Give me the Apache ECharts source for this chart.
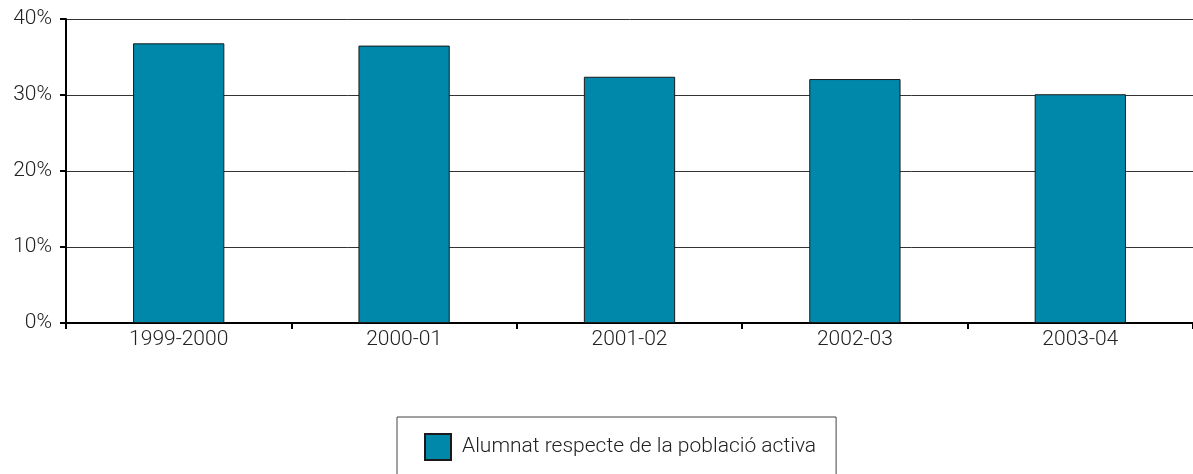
<!DOCTYPE html>
<html>
<head>
<meta charset="utf-8">
<script src="https://cdn.jsdelivr.net/npm/echarts@6/dist/echarts.min.js"></script>
<style>
  html, body { margin: 0; padding: 0; background: #fff; }
  #chart { width: 1193px; height: 474px; }
</style>
</head>
<body>
<div id="chart"></div>
<script>
// Students relative to the active population, per school year
const courses = ['1999-2000', '2000-01', '2001-02', '2002-03', '2003-04'];
const ratioValues = [36.8, 36.5, 32.4, 32.1, 30.1];
const seriesName = 'Alumnat respecte de la població activa';
const yTicks = { min: 0, max: 40, interval: 10 };

const fontFamily = 'Roboto, "Liberation Sans", sans-serif';
const textColor = '#222';
const fontSize = 21;

const chart = echarts.init(document.getElementById('chart'), null, { renderer: 'canvas' });
chart.setOption({
  animation: false,
  backgroundColor: '#ffffff',
  grid: { left: 66, right: 0, top: 19, bottom: 151, containLabel: false },
  legend: {
    data: [seriesName],
    left: 397,
    top: 417,
    padding: [16, 20, 40, 27],
    borderColor: '#444',
    borderWidth: 1,
    icon: 'rect',
    itemWidth: 26,
    itemHeight: 26,
    selectedMode: false,
    textStyle: { fontFamily, fontSize, fontWeight: 300, color: textColor, padding: [0, 0, 0, 6] }
  },
  xAxis: {
    type: 'category',
    data: courses,
    axisLine: { lineStyle: { color: '#000', width: 2 } },
    axisTick: { show: true, length: 6, lineStyle: { color: '#000', width: 2 } },
    axisLabel: { fontFamily, fontSize, fontWeight: 300, color: textColor, margin: 6 },
    splitLine: { show: false }
  },
  yAxis: {
    type: 'value',
    min: yTicks.min,
    max: yTicks.max,
    interval: yTicks.interval,
    axisLine: { show: true, lineStyle: { color: '#000', width: 2 } },
    axisTick: { show: true, length: 6, lineStyle: { color: '#000', width: 2 } },
    axisLabel: { fontFamily, fontSize, fontWeight: 300, color: textColor, margin: 14, formatter: '{value}%' },
    splitLine: { show: true, lineStyle: { color: '#333', width: 1 } }
  },
  series: [{
    name: seriesName,
    type: 'bar',
    data: ratioValues,
    barWidth: '40.5%',
    itemStyle: { color: '#0088ab', borderColor: '#1a1a1a', borderWidth: 1 }
  }]
});
</script>
</body>
</html>
